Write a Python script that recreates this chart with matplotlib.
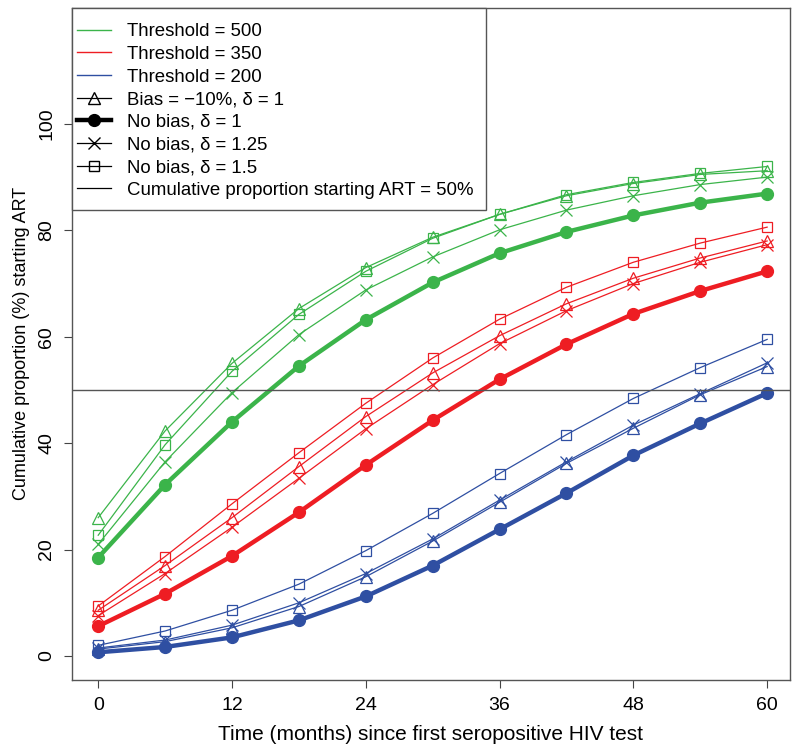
import matplotlib.pyplot as plt
from matplotlib.lines import Line2D
from matplotlib.patches import Rectangle

#%% Data
months = [0, 6, 12, 18, 24, 30, 36, 42, 48, 54, 60]

# threshold 500
t500_nobias = [18.5, 32.2, 44.0, 54.5, 63.2, 70.2, 75.7, 79.7, 82.8, 85.2, 86.9]
t500_bias = [26.0, 42.3, 55.0, 65.3, 73.0, 78.7, 83.0, 86.5, 88.8, 90.5, 91.2]
t500_d150 = [22.7, 39.7, 53.5, 64.2, 72.3, 78.5, 83.0, 86.7, 89.0, 90.7, 92.0]
t500_d125 = [21.0, 36.5, 49.5, 60.4, 68.8, 75.0, 80.1, 83.8, 86.5, 88.6, 90.0]

# threshold 350
t350_nobias = [5.6, 11.7, 18.8, 27.0, 35.9, 44.3, 52.0, 58.6, 64.3, 68.6, 72.3]
t350_bias = [8.6, 17.0, 26.0, 35.6, 45.0, 53.2, 60.2, 66.2, 71.0, 74.8, 78.0]
t350_d150 = [9.4, 18.7, 28.6, 38.2, 47.5, 56.0, 63.3, 69.3, 74.0, 77.6, 80.6]
t350_d125 = [7.6, 15.5, 24.2, 33.4, 42.7, 51.0, 58.7, 64.9, 70.0, 74.0, 77.3]

# threshold 200
t200_nobias = [0.7, 1.7, 3.5, 6.7, 11.2, 17.0, 23.8, 30.6, 37.7, 43.7, 49.4]
t200_bias = [1.3, 2.7, 5.3, 9.3, 14.9, 21.6, 28.9, 36.2, 42.8, 49.1, 54.4]
t200_d150 = [2.0, 4.7, 8.6, 13.5, 19.8, 26.8, 34.3, 41.6, 48.4, 54.2, 59.5]
t200_d125 = [1.5, 3.0, 5.8, 10.0, 15.5, 22.0, 29.3, 36.5, 43.4, 49.3, 55.1]

x_ticks = [0, 12, 24, 36, 48, 60]
y_ticks = [0, 20, 40, 60, 80, 100]

green = '#3BB44A'
red = '#EE1D23'
blue = '#2F4FA2'

#%% Plot
fig = plt.figure(figsize=(8, 7.53), dpi=100)
ax = fig.add_axes([0.09, 0.097, 0.8975, 0.8925])

groups = [(green, t500_nobias, t500_bias, t500_d150, t500_d125),
          (red, t350_nobias, t350_bias, t350_d150, t350_d125),
          (blue, t200_nobias, t200_bias, t200_d150, t200_d125)]

for col, nb, bs, d15, d125 in groups:
    ax.plot(months, bs, color=col, lw=0.9, marker='^', ms=8, mfc='none', mec=col, mew=0.9)
    ax.plot(months, d15, color=col, lw=0.9, marker='s', ms=7, mfc='none', mec=col, mew=0.9)
    ax.plot(months, d125, color=col, lw=0.9, marker='x', ms=8, mec=col, mew=0.9)
    ax.plot(months, nb, color=col, lw=3.2, marker='o', ms=8.5)

ax.axhline(50, color='#555555', lw=1)

ax.set_xlim(-2.35, 62.05)
ax.set_ylim(-4.5, 121.8)
ax.set_xticks(x_ticks)
ax.set_yticks(y_ticks)
narrow = ['Liberation Sans Narrow', 'Liberation Sans', 'DejaVu Sans']
ax.set_xticklabels([str(t) for t in x_ticks], family=narrow, fontsize=14)
ax.set_yticklabels([str(t) for t in y_ticks], family=narrow, fontsize=14, rotation=90, va='center')
ax.tick_params(direction='out', length=6, width=0.8, color='#444444', pad=6)
for s in ax.spines.values():
    s.set_color('#555555')
    s.set_linewidth(1)

ax.set_xlabel('Time (months) since first seropositive HIV test', family=narrow, fontsize=15, labelpad=8)
ax.set_ylabel('Cumulative proportion (%) starting ART', family=['Liberation Sans', 'DejaVu Sans'], fontsize=13, labelpad=6)

# legend box, drawn by hand like R's legend()
ax.add_patch(Rectangle((0, 0.6994), 0.5766, 0.3006, transform=ax.transAxes, facecolor='white',
                       edgecolor='#555555', lw=1, zorder=4, clip_on=False))

handles = [
    Line2D([], [], color=green, lw=1),
    Line2D([], [], color=red, lw=1),
    Line2D([], [], color=blue, lw=1),
    Line2D([], [], color='black', lw=0.9, marker='^', ms=8, mfc='none'),
    Line2D([], [], color='black', lw=3.2, marker='o', ms=8.5),
    Line2D([], [], color='black', lw=0.9, marker='x', ms=8),
    Line2D([], [], color='black', lw=0.9, marker='s', ms=7, mfc='none'),
    Line2D([], [], color='black', lw=0.9),
]
labels = ['Threshold = 500', 'Threshold = 350', 'Threshold = 200',
          'Bias = \u221210%, \u03b4 = 1', 'No bias, \u03b4 = 1',
          'No bias, \u03b4 = 1.25', 'No bias, \u03b4 = 1.5',
          'Cumulative proportion starting ART = 50%']
leg = ax.legend(handles, labels, loc='upper left', bbox_to_anchor=(0.007, 0.977), borderaxespad=0,
                frameon=False, handlelength=1.85, handletextpad=0.85, labelspacing=0.3, borderpad=0,
                prop={'family': ['Liberation Sans', 'DejaVu Sans'], 'size': 13.4})
leg.set_zorder(5)

plt.savefig('out.png', dpi=100)
